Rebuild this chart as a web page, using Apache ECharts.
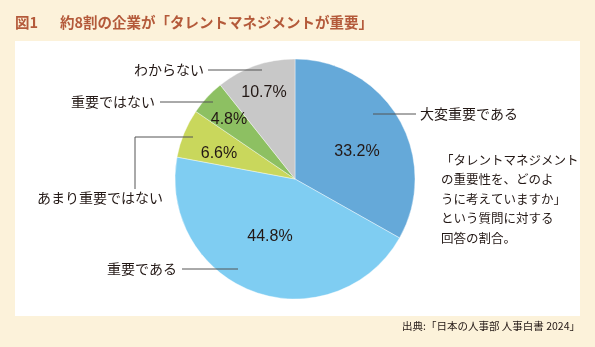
<!DOCTYPE html>
<html><head><meta charset="utf-8">
<script src="https://cdn.jsdelivr.net/npm/echarts@6/dist/echarts.min.js"></script>
<style>html,body{margin:0;padding:0;background:#fcf2da}#c{width:595px;height:347px}</style>
</head><body><div id="c"></div>
<script>
const categories = ['大変重要である', '重要である', 'あまり重要ではない', '重要ではない', 'わからない'];
const values = [33.2, 44.8, 6.6, 4.8, 10.7];
const titleNo = '図1';
const titleText = '約8割の企業が「タレントマネジメントが重要」';
const noteLines = ['「タレントマネジメント', 'の重要性を、どのよ', 'うに考えていますか」', 'という質問に対する', '回答の割合。'];
const sourceText = '出典:「日本の人事部 人事白書 2024」';

const colors = ['#65a9d9', '#7fcdf2', '#c9d75c', '#8dc062', '#c8c8c8'];
const JP = '"Noto Sans CJK JP", sans-serif';
const NUM = '"Liberation Sans", Arial, sans-serif';

// label placement (layout only)
const pctPos = [[357, 152], [270, 237], [219, 154], [229, 120], [264, 93]];
const namePos = [
  {x: 420, y: 114, align: 'left', line: [[373, 114], [395, 114], [416, 114]]},
  {x: 177, y: 269, align: 'right', line: [[238, 269], [210, 269], [182, 269]]},
  {x: 163, y: 198, align: 'right', line: [[193, 137], [135, 137], [135, 189]]},
  {x: 155, y: 102, align: 'right', line: [[213, 102], [186, 102], [160, 102]]},
  {x: 204, y: 70, align: 'right', line: [[262, 70], [235, 70], [208, 70]]}
];

const data = categories.map((n, i) => ({name: n, value: values[i], itemStyle: {color: colors[i]}}));

const chart = echarts.init(document.getElementById('c'), null, {renderer: 'canvas'});
chart.setOption({
  backgroundColor: '#fcf2da',
  animation: false,
  graphic: [
    {type: 'rect', z: -10, shape: {x: 15, y: 41, width: 565, height: 275}, style: {fill: '#ffffff'}},
    {type: 'text', x: 15, y: 22, style: {text: titleNo, font: 'bold 14.5px ' + JP, fill: '#b45a3a', verticalAlign: 'middle'}},
    {type: 'text', x: 60, y: 22, style: {text: titleText, font: 'bold 14.5px ' + JP, fill: '#b45a3a', verticalAlign: 'middle'}},
    {type: 'text', x: 441, y: 199, style: {text: noteLines.join('\n'), font: '12.5px ' + JP, lineHeight: 19.6, fill: '#231815', verticalAlign: 'middle'}},
    {type: 'text', x: 580, y: 326, style: {text: sourceText, font: '10.5px ' + JP, fill: '#231815', align: 'right', verticalAlign: 'middle'}}
  ],
  series: [
    {
      type: 'pie', center: [295, 179], radius: 120, startAngle: 90, clockwise: true,
      silent: true, data: data,
      itemStyle: {borderColor: '#ffffff', borderWidth: 0.4},
      label: {show: true, position: 'inside', formatter: '{c}%', color: '#231815', fontFamily: NUM, fontSize: 16},
      labelLayout: p => ({x: pctPos[p.dataIndex][0], y: pctPos[p.dataIndex][1], align: 'center', verticalAlign: 'middle'})
    },
    {
      type: 'pie', center: [295, 179], radius: 120, startAngle: 90, clockwise: true,
      silent: true, z: 5,
      data: categories.map((n, i) => ({name: n, value: values[i]})),
      itemStyle: {color: 'rgba(0,0,0,0)'},
      label: {show: true, position: 'outside', formatter: '{b}', color: '#231815', fontFamily: JP, fontSize: 14, overflow: 'none', width: 200},
      labelLine: {show: true, lineStyle: {color: '#555', width: 1}},
      labelLayout: p => {
        const d = namePos[p.dataIndex];
        return {x: d.x, y: d.y, align: d.align, verticalAlign: 'middle', labelLinePoints: d.line};
      }
    }
  ]
});
</script></body></html>
